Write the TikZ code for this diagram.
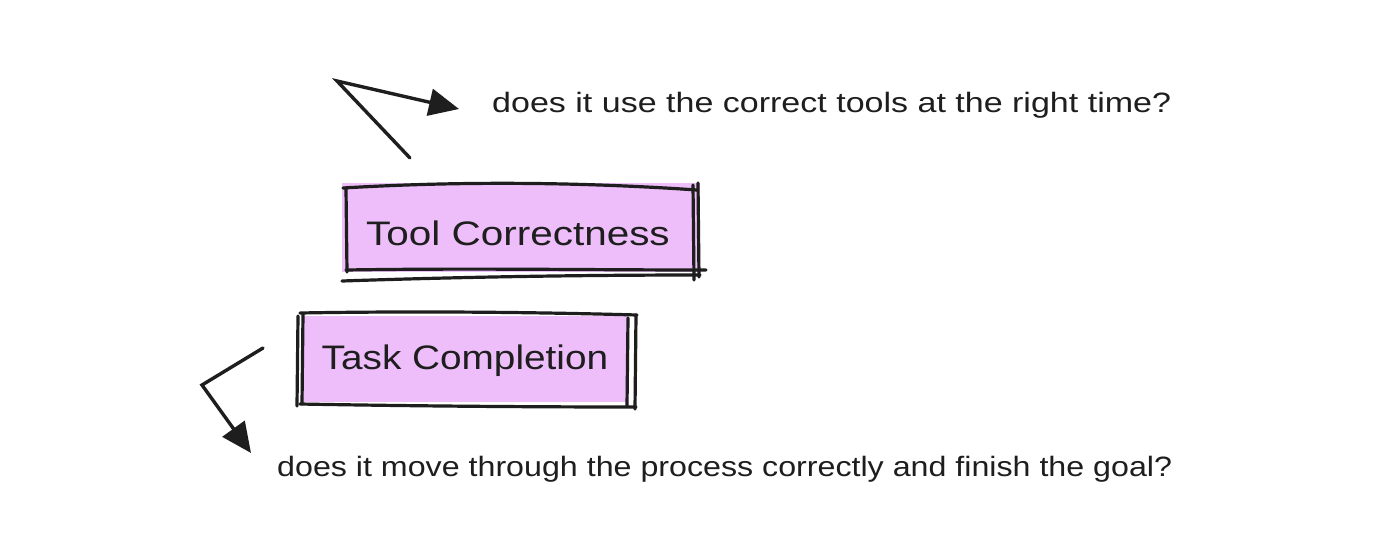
\documentclass[tikz,border=0pt]{standalone}
\usepackage{fontspec}
\setmainfont{Liberation Sans}
\usetikzlibrary{arrows.meta}
\definecolor{boxfill}{HTML}{EEBEFA}
\definecolor{ink}{HTML}{1E1E1E}
\tikzset{
  sketch/.style={draw=ink, line width=3.2pt, line cap=round, line join=round},
  pointer/.style={draw=ink, line width=3.4pt, line cap=round, line join=miter,
    -{Triangle[length=30pt,width=27pt]}},
  label/.style={text=ink, font=\fontsize{28}{30}\selectfont, inner sep=0pt, anchor=west},
  boxtext/.style={text=ink, font=\fontsize{34}{36}\selectfont, inner sep=0pt}
}
\begin{document}
\begin{tikzpicture}[x=1pt,y=-1pt]
\useasboundingbox (0,0) rectangle (1400,547);
\fill[white] (0,0) rectangle (1400,547);

% ---- Box 1: Tool Correctness
\fill[boxfill] (342,183) rectangle (700,272);
\draw[sketch] (343,188) .. controls (460,181) and (580,182) .. (697,190);
\draw[sketch] (346,189) -- (347,272);
\draw[sketch] (693,185) -- (694,280);
\draw[sketch] (698,183) -- (699,277);
\draw[sketch] (346,270) .. controls (470,268) and (590,270) .. (706,270);
\draw[sketch] (342,281) .. controls (460,277) and (580,275) .. (700,275);
\node[boxtext] (tc) at (518,233) {\scalebox{1.19}[1]{Tool Correctness}};

% ---- Box 2: Task Completion
\fill[boxfill] (303,316) rectangle (628,402);
\draw[sketch] (300,313) .. controls (410,311) and (530,312) .. (637,315);
\draw[sketch] (298,316) -- (297,406);
\draw[sketch] (303,314) -- (302,404);
\draw[sketch] (628,318) -- (627,406);
\draw[sketch] (636,315) -- (635,409);
\draw[sketch] (300,404) .. controls (410,406) and (530,407) .. (636,407);
\node[boxtext] (tk) at (465,361) {\scalebox{1.14}[1]{Task Completion}};

% ---- Labels
\node[label] (q1) at (492,105) {\scalebox{1.215}[1]{does it use the correct tools at the right time?}};
\node[label] (q2) at (277,469) {\scalebox{1.15}[1]{does it move through the process correctly and finish the goal?}};

% ---- Arrows
\coordinate (a1s) at (410,158);
\coordinate (a1c) at (337,81);
\coordinate (a1t) at (459,109);
\draw[pointer] (a1s) -- (a1c) -- (a1t);

\coordinate (a2s) at (263,348);
\coordinate (a2c) at (202,385);
\coordinate (a2t) at (251,453);
\draw[pointer] (a2s) -- (a2c) -- (a2t);
\end{tikzpicture}
\end{document}
